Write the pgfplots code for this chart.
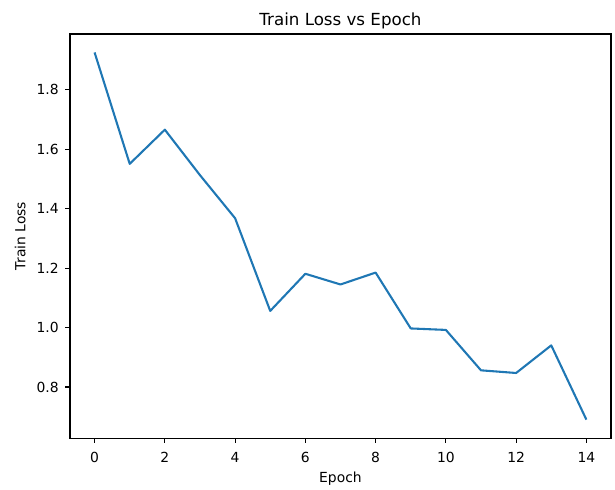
\documentclass[border=0pt]{standalone}
\usepackage{fontspec}
\setmainfont{DejaVu Sans}
\usepackage{pgfplots}
\pgfplotsset{compat=1.18}
\definecolor{mplblue}{HTML}{1F77B4}
\begin{document}
\begin{tikzpicture}
\begin{axis}[
  name=ax,
  scale only axis,
  width=389.5pt, height=290.9pt,
  xmin=-0.7, xmax=14.7,
  ymin=0.628, ymax=1.988,
  xtick={0,2,...,14},
  ytick={0.8,1.0,1.2,1.4,1.6,1.8},
  yticklabel style={xshift=-4.4pt, /pgf/number format/.cd,fixed,fixed zerofill,precision=1},
  /pgf/number format/assume math mode=true,
  tick label style={font=\fontsize{10}{12}\selectfont, black, inner sep=0pt},
  xticklabel style={yshift=-6.4pt},
  label style={font=\fontsize{10}{12}\selectfont},
  every axis title shift=0pt,
  title style={font=\fontsize{12}{14}\selectfont, at={(axis description cs:0.5,1)}, anchor=base, inner sep=0pt, yshift=5.8pt},
  title={Train Loss vs Epoch},
  xlabel={Epoch}, ylabel={Train Loss},
  xlabel style={at={(axis description cs:0.5,-0.1097)}, anchor=base, inner sep=0pt},
  ylabel style={at={(axis description cs:-0.0814,0.5)}, anchor=south, inner sep=0pt},
  tick align=outside, xtick pos=bottom, ytick pos=left,
  major tick length=3.5pt,
  every tick/.style={black, line width=0.8pt},
  axis line style={line width=0.8pt},
]
\addplot[mplblue, line width=1.5pt, line join=round] coordinates {
(0,1.926) (1,1.551) (2,1.666) (3,1.513) (4,1.368) (5,1.056) (6,1.181)
(7,1.145) (8,1.185) (9,0.997) (10,0.992) (11,0.856) (12,0.847) (13,0.940) (14,0.690)
};
\end{axis}
\pgfresetboundingbox
\path ([shift={(-50.4pt,-36.7pt)}]ax.south west) rectangle ([shift={(2.9pt,24.5pt)}]ax.north east);
\end{tikzpicture}
\end{document}
